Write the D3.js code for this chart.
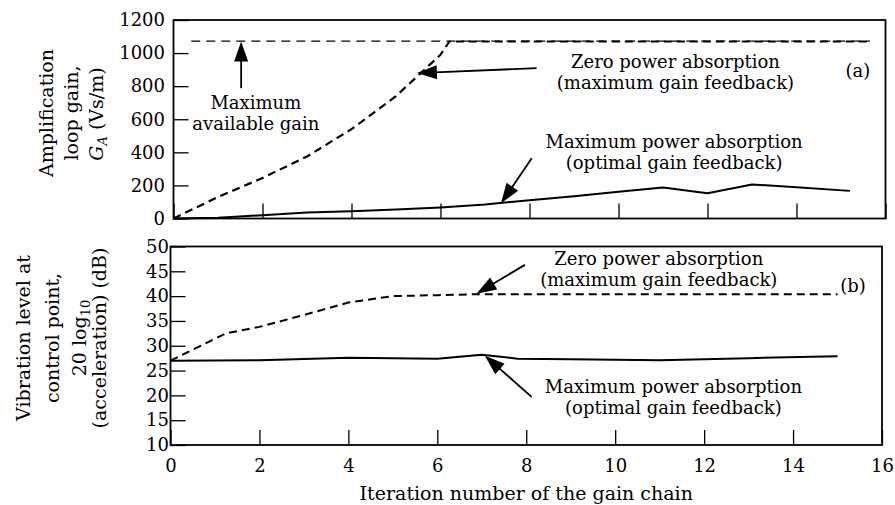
<!DOCTYPE html>
<html><head><meta charset="utf-8">
<script src="https://cdn.jsdelivr.net/npm/d3@7"></script>
<style>
body{margin:0;background:#fff}
svg text{font-family:"DejaVu Serif",serif;fill:#000}
</style>
</head><body>
<svg id="c" width="895" height="505"></svg>
<script>
// ---- data ----
const xTicks = [0, 2, 4, 6, 8, 10, 12, 14, 16];
const gainTicks = [0, 200, 400, 600, 800, 1000, 1200];
const dbTicks = [10, 15, 20, 25, 30, 35, 40, 45, 50];

// (a) amplification loop gain
const gainZeroX = [0, 1, 2, 3, 4, 5, 6, 6.2, 15.6];
const gainZeroY = [0, 130, 245, 375, 540, 740, 990, 1070, 1070];
const gainMaxAvailX = [0.4, 15.65];
const gainMaxAvailY = [1072, 1072];
const gainOptX = [0, 1, 2, 3, 4, 5, 6, 7, 8, 9, 10, 11, 12, 13, 14, 15.2];
const gainOptY = [0, 5, 20, 37, 44, 54, 67, 85, 111, 135, 161, 188, 153, 206, 189, 167];

// (b) vibration level
const dbZeroX = [0, 1.25, 2, 3, 4, 5, 6, 7, 15];
const dbZeroY = [27, 32.5, 33.8, 36.2, 38.7, 40, 40.2, 40.4, 40.4];
const dbOptX = [0, 2, 4, 6, 7, 7.8, 9, 11, 13, 15];
const dbOptY = [27, 27.1, 27.6, 27.4, 28.2, 27.4, 27.3, 27.1, 27.5, 27.9];

// annotation texts (first-line baseline anchored in data units)
const annA = [
  {lines: ["Maximum", "available gain"], x: 1.85, y: 661},
  {lines: ["Zero power absorption", "(maximum gain feedback)"], x: 11.28, y: 908},
  {lines: ["Maximum power absorption", "(optimal gain feedback)"], x: 11.25, y: 428},
  {lines: ["(a)"], x: 15.38, y: 855}
];
const arrowsA = [
  {x1: 1.52, y1: 788, x2: 1.52, y2: 1070},
  {x1: 8.16, y1: 909, x2: 5.47, y2: 879},
  {x1: 8.05, y1: 364, x2: 7.36, y2: 92}
];
const annB = [
  {lines: ["Zero power absorption", "(maximum gain feedback)"], x: 10.98, y: 46.25},
  {lines: ["(b)"], x: 15.35, y: 40.9},
  {lines: ["Maximum power absorption", "(optimal gain feedback)"], x: 11.31, y: 20.5}
];
const arrowsB = [
  {x1: 7.97, y1: 46.3, x2: 6.88, y2: 40.5},
  {x1: 8.12, y1: 19.7, x2: 7.07, y2: 28.0}
];

// ---- drawing ----
const svg = d3.select("#c");
const FS = 19, AFS = 18, GAP = 21;

const xA = d3.scaleLinear().domain([0, 16]).range([173.5, 885.5]);
const yA = d3.scaleLinear().domain([0, 1200]).range([218.5, 20]);
const xB = d3.scaleLinear().domain([0, 16]).range([170.5, 882]);
const yB = d3.scaleLinear().domain([10, 50]).range([445, 246.5]);

function frame(x, y) {
  svg.append("rect")
    .attr("x", x.range()[0]).attr("y", y.range()[1])
    .attr("width", x.range()[1] - x.range()[0])
    .attr("height", y.range()[0] - y.range()[1])
    .attr("fill", "none").attr("stroke", "#000").attr("stroke-width", 1.8);
}

function axes(x, y, yt, ypad, showX) {
  const gy = svg.append("g").attr("transform", `translate(${x.range()[0]},0)`)
    .call(d3.axisLeft(y).tickValues(yt).tickSizeInner(-15).tickSizeOuter(0).tickPadding(ypad).tickFormat(d3.format("d")));
  gy.select(".domain").remove();
  gy.selectAll("line").attr("stroke", "#000").attr("stroke-width", 1.3);
  gy.selectAll("text").attr("font-size", 18).attr("font-family", "DejaVu Serif");
  const gx = svg.append("g").attr("transform", `translate(0,${y.range()[0]})`)
    .call(d3.axisBottom(x).tickValues(xTicks).tickSizeInner(-15).tickSizeOuter(0).tickPadding(14)
      .tickFormat(showX ? d3.format("d") : () => ""));
  gx.select(".domain").remove();
  gx.selectAll("line").attr("stroke", "#000").attr("stroke-width", 1.3);
  gx.selectAll("text").attr("font-size", 18).attr("font-family", "DejaVu Serif");
}

function series(x, y, xs, ys, opts) {
  const line = d3.line().x(d => x(d[0])).y(d => y(d[1]));
  svg.append("path").datum(xs.map((v, i) => [v, ys[i]]))
    .attr("d", line).attr("fill", "none").attr("stroke", "#000")
    .attr("stroke-width", opts.w).attr("stroke-dasharray", opts.dash || null)
    .attr("stroke-linejoin", "round");
}

function arrow(x, y, a) {
  const X1 = x(a.x1), Y1 = y(a.y1), X2 = x(a.x2), Y2 = y(a.y2);
  const dx = X2 - X1, dy = Y2 - Y1, L = Math.hypot(dx, dy);
  const ux = dx / L, uy = dy / L, H = 20, W = 7;
  const bx = X2 - ux * H, by = Y2 - uy * H;
  svg.append("line").attr("x1", X1).attr("y1", Y1).attr("x2", bx + ux * 2).attr("y2", by + uy * 2)
    .attr("stroke", "#000").attr("stroke-width", 1.8);
  svg.append("path")
    .attr("d", `M${X2},${Y2}L${bx - uy * W},${by + ux * W}L${bx + uy * W},${by - ux * W}Z`)
    .attr("fill", "#000");
}

function labels(x, y, arr) {
  arr.forEach(a => {
    const t = svg.append("text").attr("x", x(a.x)).attr("y", y(a.y))
      .attr("text-anchor", "middle").attr("font-size", AFS);
    a.lines.forEach((s, i) => t.append("tspan").attr("x", x(a.x)).attr("dy", i ? GAP : 0).text(s));
  });
}

// panel (a)
frame(xA, yA);
axes(xA, yA, gainTicks, 8.5, false);
series(xA, yA, gainMaxAvailX, gainMaxAvailY, {w: 1.3, dash: "9,6"});
series(xA, yA, gainZeroX, gainZeroY, {w: 2.2, dash: "8,5"});
series(xA, yA, gainOptX, gainOptY, {w: 2});
arrowsA.forEach(a => arrow(xA, yA, a));
labels(xA, yA, annA);

// panel (b)
frame(xB, yB);
axes(xB, yB, dbTicks, 1.5, true);
series(xB, yB, dbZeroX, dbZeroY, {w: 2, dash: "8,5"});
series(xB, yB, dbOptX, dbOptY, {w: 2});
arrowsB.forEach(a => arrow(xB, yB, a));
labels(xB, yB, annB);

// y-axis titles
function vlabel(cx, cy, build) {
  const t = svg.append("text").attr("transform", `translate(${cx},${cy}) rotate(-90)`)
    .attr("text-anchor", "middle").attr("font-size", FS);
  build(t);
}
vlabel(52.5, 113, t => t.text("Amplification"));
vlabel(77.5, 113, t => t.text("loop gain,"));
vlabel(103, 114, t => {
  t.append("tspan").attr("font-style", "italic").text("G");
  t.append("tspan").attr("font-size", 13).attr("dy", 4).attr("font-style", "italic").text("A");
  t.append("tspan").attr("dy", -4).text(" (Vs/m)");
});
vlabel(29.5, 338, t => t.text("Vibration level at"));
vlabel(58.5, 338, t => t.text("control point,"));
vlabel(85.5, 338, t => {
  t.append("tspan").text("20 log");
  t.append("tspan").attr("font-size", 13).attr("dy", 4).text("10");
});
vlabel(106, 338, t => t.text("(acceleration) (dB)"));

// x-axis title
svg.append("text").attr("x", (xB.range()[0] + xB.range()[1]) / 2).attr("y", 500)
  .attr("text-anchor", "middle").attr("font-size", FS).text("Iteration number of the gain chain");
</script>
</body></html>
